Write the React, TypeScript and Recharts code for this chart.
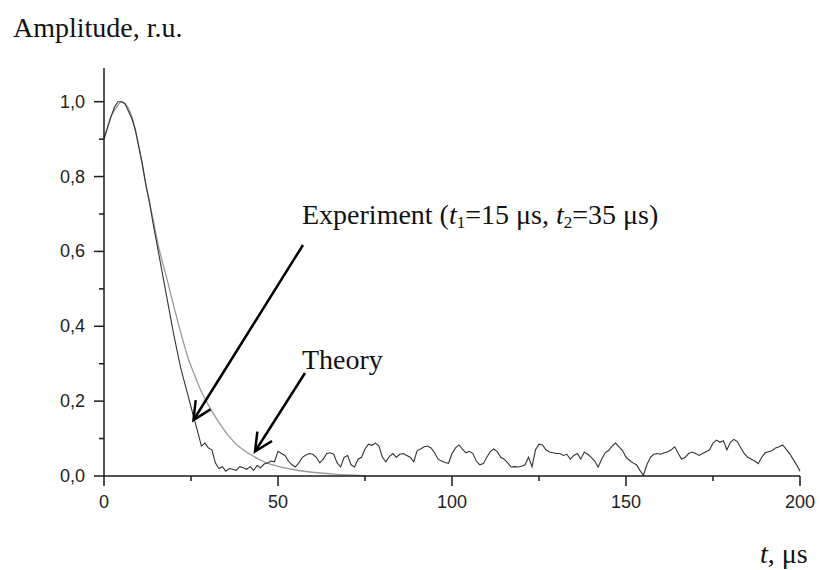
import React from 'react';
import { LineChart, Line, XAxis, YAxis } from 'recharts';

const expT: number[] = Array.from({ length: 201 }, (_, i) => i);
const expY: number[] = [
  0.9, 0.93, 0.96, 0.985, 1.0, 1.0, 0.995, 0.975, 0.955, 0.925,
  0.88, 0.835, 0.78, 0.735, 0.68, 0.63, 0.58, 0.53, 0.48, 0.43,
  0.38, 0.335, 0.29, 0.255, 0.22, 0.185, 0.15, 0.115, 0.08, 0.088,
  0.075, 0.07, 0.035, 0.02, 0.025, 0.013, 0.02, 0.018, 0.015, 0.025,
  0.022, 0.018, 0.025, 0.015, 0.028, 0.022, 0.032, 0.035, 0.04, 0.038,
  0.066, 0.06, 0.055, 0.04, 0.03, 0.024, 0.035, 0.05, 0.056, 0.06,
  0.058, 0.05, 0.035, 0.045, 0.06, 0.062, 0.058, 0.035, 0.024, 0.05,
  0.055, 0.03, 0.024, 0.045, 0.05, 0.072, 0.085, 0.082, 0.088, 0.08,
  0.05, 0.038, 0.052, 0.06, 0.05, 0.058, 0.06, 0.055, 0.05, 0.038,
  0.068, 0.072, 0.078, 0.08, 0.075, 0.062, 0.045, 0.04, 0.036, 0.034,
  0.06, 0.075, 0.083, 0.072, 0.062, 0.066, 0.06, 0.04, 0.03, 0.033,
  0.05, 0.065, 0.072, 0.065, 0.05, 0.045, 0.035, 0.024, 0.025, 0.024,
  0.026, 0.03, 0.05, 0.025, 0.07, 0.085, 0.083, 0.07, 0.064, 0.062,
  0.06, 0.06, 0.055, 0.058, 0.045, 0.055, 0.06, 0.045, 0.064, 0.058,
  0.05, 0.04, 0.024, 0.045, 0.062, 0.068, 0.08, 0.088, 0.078, 0.068,
  0.05, 0.042, 0.035, 0.03, 0.015, 0.002, 0.03, 0.05, 0.058, 0.06,
  0.058, 0.062, 0.065, 0.07, 0.078, 0.06, 0.045, 0.05, 0.06, 0.064,
  0.06, 0.055, 0.06, 0.065, 0.07, 0.088, 0.096, 0.09, 0.094, 0.07,
  0.09, 0.098, 0.092, 0.075, 0.06, 0.05, 0.045, 0.04, 0.033, 0.05,
  0.062, 0.065, 0.068, 0.075, 0.078, 0.083, 0.072, 0.06, 0.045, 0.03,
  0.013,
];

const theoryT: number[] = [0, 2, 4, 5, 6, 8, 10, 12, 14, 16, 18, 20, 22, 24, 26, 28, 30, 32, 34, 36, 38, 40, 42, 44, 46, 48, 50, 54, 58, 62, 66, 70, 75];
const theoryY: number[] = [0.9, 0.96, 0.99, 1.0, 0.995, 0.96, 0.88, 0.78, 0.69, 0.6, 0.53, 0.455, 0.385, 0.32, 0.27, 0.225, 0.19, 0.158, 0.13, 0.105, 0.085, 0.07, 0.058, 0.047, 0.038, 0.031, 0.026, 0.018, 0.012, 0.008, 0.005, 0.003, 0.001];

const xTicks: number[] = [0, 25, 50, 75, 100, 125, 150, 175, 200];
const yTicks: number[] = [0, 0.1, 0.2, 0.3, 0.4, 0.5, 0.6, 0.7, 0.8, 0.9, 1.0];

const expData = expT.map((t, i) => ({ t, v: expY[i] }));
const theoryData = theoryT.map((t, i) => ({ t, v: theoryY[i] }));

const AXIS = '#1a1a1a';
const SANS = '"Liberation Sans", Arial, sans-serif';
const SERIF = '"Liberation Serif", "Times New Roman", serif';

const YTick = (props: any) => {
  const { x, y, payload } = props;
  const v = payload.value as number;
  const major = Math.round(v * 10) % 2 === 0;
  return (
    <g>
      <line x1={x - (major ? 10 : 5)} y1={y} x2={x} y2={y} stroke={AXIS} strokeWidth={1.5} />
      {major && (
        <text x={x - 19} y={y} textAnchor="end" dominantBaseline="central" fontFamily={SANS} fontSize={18} fill="#222">
          {v.toFixed(1).replace('.', ',')}
        </text>
      )}
    </g>
  );
};

const XTick = (props: any) => {
  const { x, y, payload } = props;
  const v = payload.value as number;
  const major = v % 50 === 0;
  return (
    <g>
      <line x1={x} y1={y} x2={x} y2={y + (major ? 10 : 5)} stroke={AXIS} strokeWidth={1.5} />
      {major && (
        <text x={x} y={y + 32} textAnchor="middle" fontFamily={SANS} fontSize={18} fill="#222">
          {v}
        </text>
      )}
    </g>
  );
};

function arrowHead(tx: number, ty: number, fx: number, fy: number, len = 20, ang = 0.45) {
  const a = Math.atan2(fy - ty, fx - tx);
  const p1 = [tx + len * Math.cos(a + ang), ty + len * Math.sin(a + ang)];
  const p2 = [tx + len * Math.cos(a - ang), ty + len * Math.sin(a - ang)];
  return `M${p1[0]},${p1[1]} L${tx},${ty} L${p2[0]},${p2[1]}`;
}

export default function App() {
  return (
    <div style={{ position: 'absolute', left: 0, top: 0, width: 820, height: 570, background: '#fff' }}>
      <LineChart
        width={820}
        height={570}
        margin={{ top: 68, right: 20, bottom: 64, left: 44 }}
      >
        <XAxis
          type="number"
          dataKey="t"
          domain={[0, 200]}
          ticks={xTicks}
          interval={0}
          height={30}
          tickSize={0}
          tickMargin={0}
          tickLine={false}
          axisLine={{ stroke: AXIS, strokeWidth: 1.5 }}
          tick={<XTick />}
          allowDuplicatedCategory={false}
        />
        <YAxis
          type="number"
          domain={[0, 1.09]}
          ticks={yTicks}
          interval={0}
          width={60}
          tickSize={0}
          tickMargin={0}
          tickLine={false}
          axisLine={{ stroke: AXIS, strokeWidth: 1.5 }}
          tick={<YTick />}
        />
        <Line
          data={theoryData}
          dataKey="v"
          type="monotone"
          stroke="#999999"
          strokeWidth={1.3}
          dot={false}
          isAnimationActive={false}
        />
        <Line
          data={expData}
          dataKey="v"
          type="linear"
          stroke="#333333"
          strokeWidth={1.1}
          dot={false}
          isAnimationActive={false}
        />
      </LineChart>
      <svg width={820} height={570} style={{ position: 'absolute', left: 0, top: 0, pointerEvents: 'none' }}>
        <text x={13} y={37} fontFamily={SERIF} fontSize={28} fill="#111">Amplitude, r.u.</text>
        <text x={302} y={224} fontFamily={SERIF} fontSize={28} fill="#111">
          Experiment (<tspan fontStyle="italic">t</tspan>
          <tspan fontSize={17} dy={4}>1</tspan>
          <tspan dy={-4}>=15 μs, </tspan>
          <tspan fontStyle="italic">t</tspan>
          <tspan fontSize={17} dy={4}>2</tspan>
          <tspan dy={-4}>=35 μs)</tspan>
        </text>
        <text x={302} y={369} fontFamily={SERIF} fontSize={28} fill="#111">Theory</text>
        <text x={760} y={563} fontFamily={SERIF} fontSize={28} fill="#111">
          <tspan fontStyle="italic">t</tspan>, μs
        </text>
        <line x1={303} y1={245} x2={193.5} y2={420} stroke="#000" strokeWidth={2.5} />
        <path d={arrowHead(193.5, 420, 303, 245)} stroke="#000" strokeWidth={2.5} fill="none" />
        <line x1={305} y1={373} x2={255} y2={451.5} stroke="#000" strokeWidth={2.5} />
        <path d={arrowHead(255, 451.5, 305, 373)} stroke="#000" strokeWidth={2.5} fill="none" />
      </svg>
    </div>
  );
}
